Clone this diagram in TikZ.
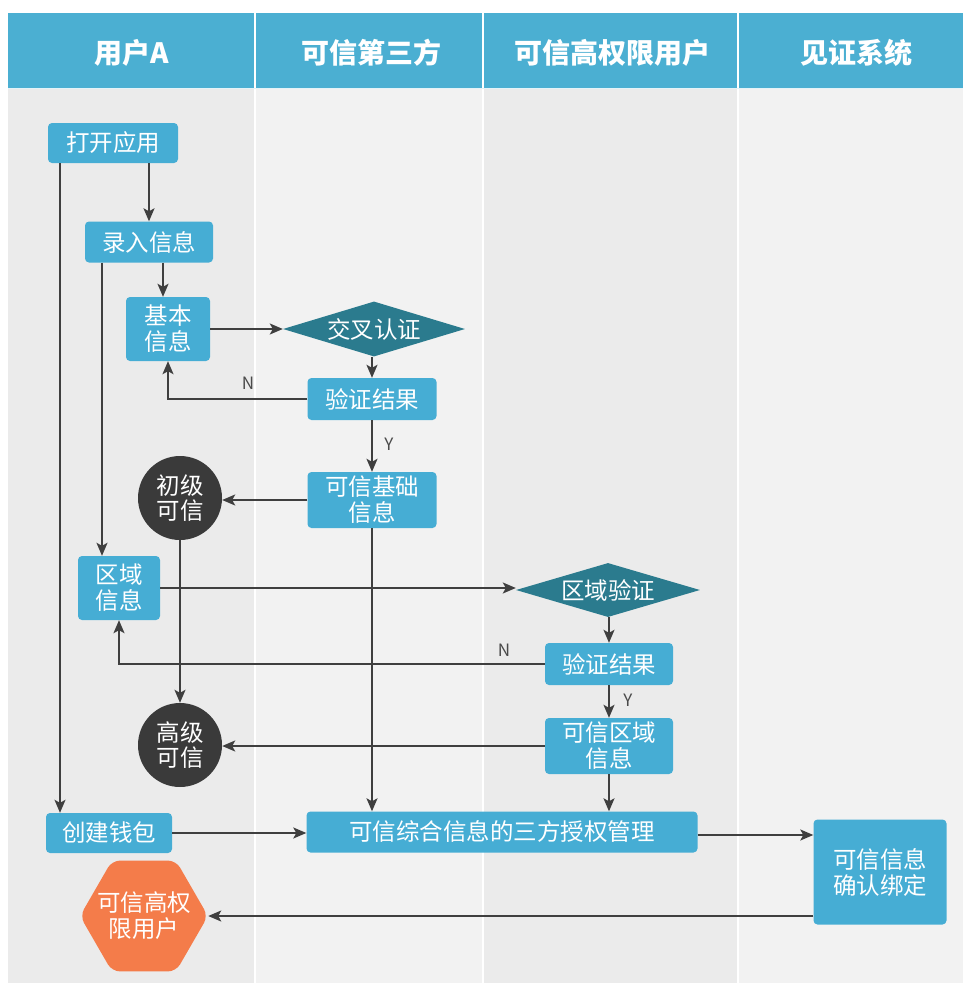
\documentclass[tikz,border=0pt]{standalone}
\usepackage{fontspec}
\setmainfont{Noto Sans CJK SC}
\usetikzlibrary{arrows.meta,shapes.geometric,calc}
\definecolor{hdr}{HTML}{4BAFD2}
\definecolor{nblue}{HTML}{46ADD4}
\definecolor{dteal}{HTML}{2B7B8E}
\definecolor{darkc}{HTML}{3A3A3A}
\definecolor{orng}{HTML}{F47C4A}
\definecolor{laneA}{HTML}{EBEBEB}
\definecolor{laneB}{HTML}{F2F2F2}
\definecolor{arrc}{HTML}{3F3F3F}
\definecolor{lblc}{HTML}{4A4A4A}
\tikzset{
  box/.style={rectangle, rounded corners=4pt, fill=nblue, text=white, align=center,
    inner sep=0pt, font=\fontsize{23.5pt}{26pt}\selectfont},
  decide/.style={diamond, fill=dteal, text=white, inner sep=0pt, aspect=3.3,
    font=\fontsize{23.5pt}{26pt}\selectfont},
  level/.style={circle, fill=darkc, text=white, align=center, inner sep=0pt,
    minimum size=84pt, font=\fontsize{23.5pt}{25pt}\selectfont},
  endnode/.style={regular polygon, regular polygon sides=6, minimum size=128pt,
    fill=orng, text=white, align=center, inner sep=-30pt, rounded corners=8pt,
    font=\fontsize{23.5pt}{26pt}\selectfont},
  hdrtext/.style={text=white, font=\fontsize{28pt}{32pt}\selectfont\bfseries},
  arr/.style={draw=arrc, line width=1.8pt, -{Stealth[length=13pt,width=11pt,inset=3pt]}},
  yn/.style={text=lblc, font=\fontsize{17pt}{19pt}\selectfont},
}
\begin{document}
\begin{tikzpicture}[x=1pt,y=-1pt]
\useasboundingbox (0,0) rectangle (970,983);
% lanes
\fill[hdr] (8,13) rectangle (963,88);
\fill[laneA] (8,88) rectangle (255,983);
\fill[laneB] (255,88) rectangle (483,983);
\fill[laneA] (483,88) rectangle (738,983);
\fill[laneB] (738,88) rectangle (963,983);
\foreach \xx in {255,483,738} \draw[white, line width=1.5pt] (\xx,13) -- (\xx,983);
\draw[white!85!hdr, line width=1pt] (8,88) -- (963,88);
% headers
\node[hdrtext] (h1) at (132,53) {用户A};
\node[hdrtext] (h2) at (371,53) {可信第三方};
\node[hdrtext] (h3) at (612,53) {可信高权限用户};
\node[hdrtext] (h4) at (856,53) {见证系统};
% nodes
\node[box, minimum width=130pt, minimum height=40pt] (open) at (113,143) {打开应用};
\node[box, minimum width=128pt, minimum height=41pt] (rec) at (149,242) {录入信息};
\node[box, minimum width=84pt, minimum height=64pt] (basic) at (168,329) {基本\\信息};
\node[decide, minimum width=182pt, minimum height=55pt] (cross) at (374,329) {交叉认证};
\node[box, minimum width=129pt, minimum height=42pt] (res1) at (372,399) {验证结果};
\node[box, minimum width=129pt, minimum height=56pt] (base) at (372,500) {可信基础\\信息};
\node[level] (c1) at (180,498) {初级\\可信};
\node[box, minimum width=82pt, minimum height=64pt] (region) at (119,588) {区域\\信息};
\node[decide, minimum width=184pt, minimum height=54pt] (rcheck) at (608,590) {区域验证};
\node[box, minimum width=128pt, minimum height=42pt] (res2) at (609,664) {验证结果};
\node[box, minimum width=128pt, minimum height=56pt] (trust) at (609,746) {可信区域\\信息};
\node[level] (c2) at (180,745) {高级\\可信};
\node[box, minimum width=126pt, minimum height=40pt] (wallet) at (109,833) {创建钱包};
\node[box, minimum width=391pt, minimum height=41pt] (mgmt) at (502,832) {可信综合信息的三方授权管理};
\node[box, minimum width=133pt, minimum height=105pt] (bind) at (880,872) {可信信息\\确认绑定};
\node[endnode] (hex) at (144,916) {可信高权\\限用户};
% connectors
\coordinate (wtop) at ([xshift=-49pt]wallet.north);
\coordinate (btop) at ([xshift=-5pt]basic.north);
\coordinate (rtop) at ([xshift=-17pt]region.north);
\draw[arr] (rec.north |- open.south) -- (rec.north);
\draw[arr] (wtop |- open.south) -- (wtop);
\draw[arr] (btop |- rec.south) -- (btop);
\draw[arr] (rtop |- rec.south) -- (rtop);
\draw[arr] (basic.east) -- (cross.west);
\draw[arr] (res1.north |- cross.south) -- (res1.north);
\draw[arr] (res1.west) -| (basic.south);
\node[yn] (n1) at (248,383) {N};
\draw[arr] (res1.south) -- (base.north);
\node[yn] (y1) at (389,444) {Y};
\draw[arr] (base.west) -- (base.west -| c1.east);
\draw[arr] (base.south) -- (base.south |- mgmt.north);
\draw[arr] (c1.south) -- (c2.north);
\draw[arr] (region.east) -- (region.east -| rcheck.west);
\draw[arr] (res2.north |- rcheck.south) -- (res2.north);
\draw[arr] (res2.west) -| (region.south);
\node[yn] (n2) at (504,650) {N};
\draw[arr] (res2.south) -- (trust.north);
\node[yn] (y2) at (628,700) {Y};
\draw[arr] (trust.west) -- (trust.west -| c2.east);
\draw[arr] (trust.south) -- (trust.south |- mgmt.north);
\draw[arr] (wallet.east) -- (wallet.east -| mgmt.west);
\coordinate (mout) at ([yshift=-3pt]mgmt.east);
\draw[arr] (mout) -- (mout -| bind.west);
\coordinate (bout) at ([yshift=-44pt]bind.west);
\draw[arr] (bout) -- (bout -| hex.east);
\end{tikzpicture}
\end{document}
